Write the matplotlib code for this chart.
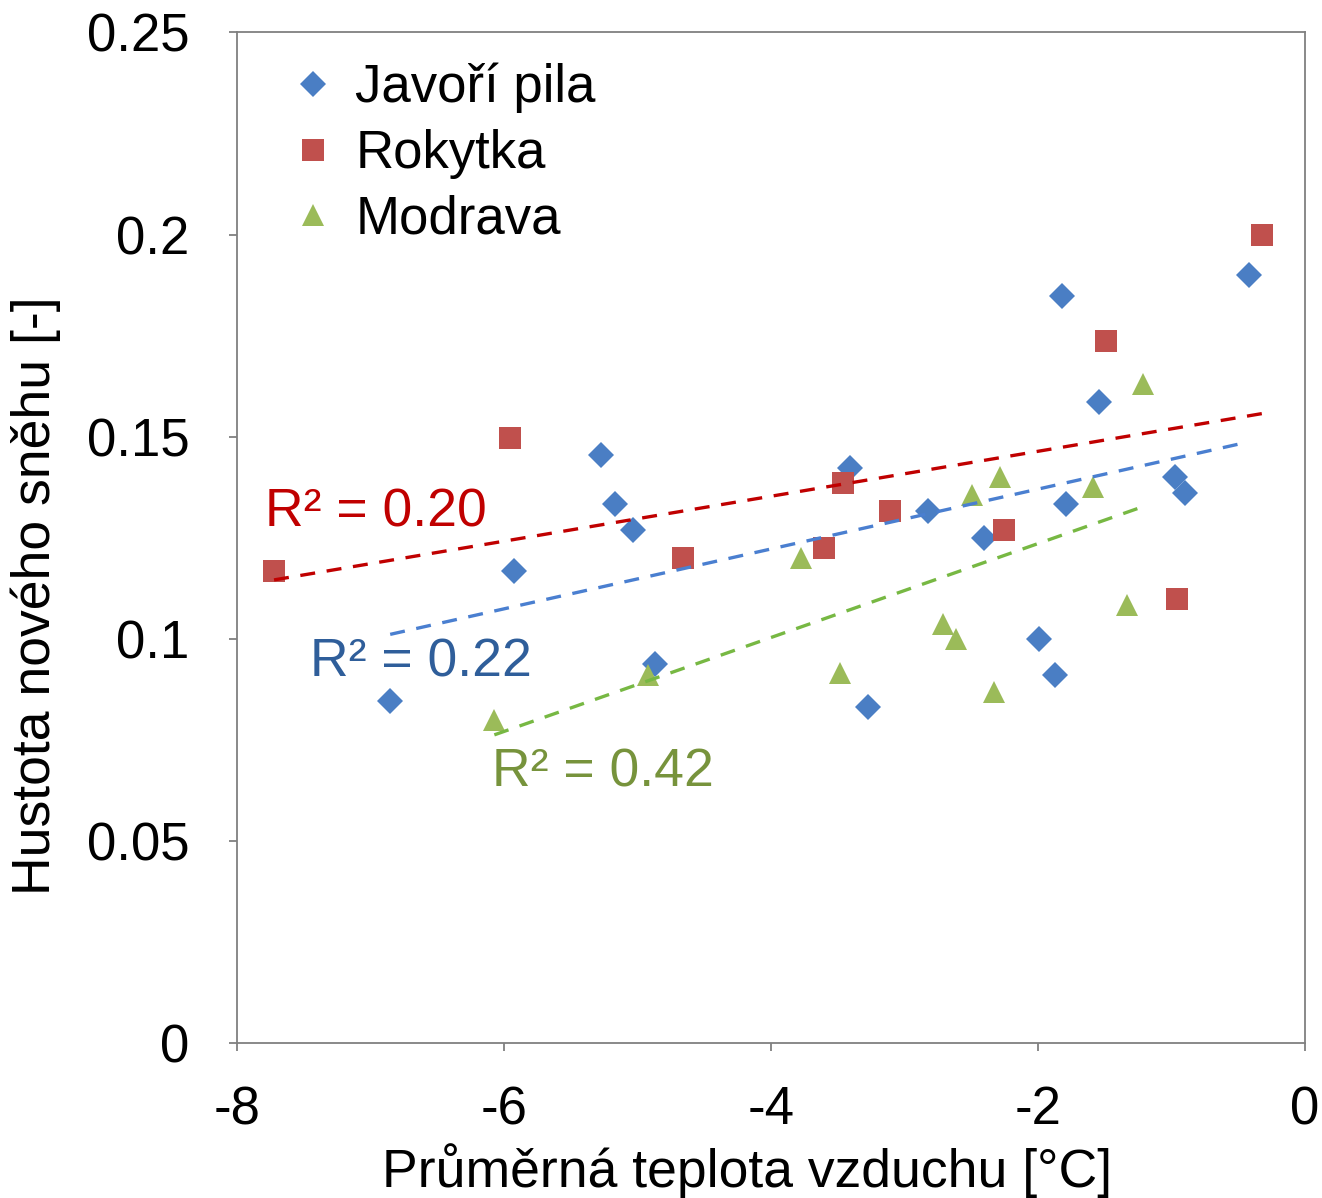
import numpy as np
import matplotlib.pyplot as plt
from matplotlib.ticker import FuncFormatter

plt.rcParams['font.family'] = ['Liberation Sans', 'DejaVu Sans']
plt.rcParams['axes.unicode_minus'] = False

# Javoří pila
jav_x = [-6.85, -5.92, -5.27, -5.17, -5.03, -4.87, -3.41, -3.27, -2.82, -2.40,
         -1.99, -1.87, -1.82, -1.79, -1.54, -0.97, -0.90, -0.42]
jav_y = [0.0846, 0.1167, 0.1454, 0.1335, 0.1269, 0.0937, 0.1422, 0.0833, 0.1316, 0.1249,
         0.0999, 0.0910, 0.1847, 0.1335, 0.1585, 0.1400, 0.1362, 0.1900]

# Rokytka
rok_x = [-7.72, -5.95, -4.66, -3.60, -3.46, -3.11, -2.25, -1.49, -0.96, -0.32]
rok_y = [0.1167, 0.1496, 0.1200, 0.1224, 0.1385, 0.1316, 0.1269, 0.1736, 0.1098, 0.1998]

# Modrava
mod_x = [-6.07, -4.92, -3.77, -3.48, -2.71, -2.61, -2.49, -2.33, -2.28, -1.59, -1.33, -1.21]
mod_y = [0.0799, 0.0912, 0.1200, 0.0917, 0.1036, 0.0999, 0.1355, 0.0868, 0.1400, 0.1377,
         0.1083, 0.1630]

r2_labels = ['R² = 0.22', 'R² = 0.20', 'R² = 0.42']

fig = plt.figure(figsize=(13.22, 11.98), dpi=100)
ax = fig.add_axes([0.179, 0.129, 0.808, 0.844])

series = [
    ('Javoří pila', jav_x, jav_y, 'D', '#4A7EC4', 13.5, '#4A7FD0', '#2F5E9A', (-7.45, 0.0942)),
    ('Rokytka', rok_x, rok_y, 's', '#C0504D', 15.5, '#C00000', '#C00000', (-7.79, 0.1313)),
    ('Modrava', mod_x, mod_y, '^', '#9BBB59', 16.5, '#77B843', '#77933C', (-6.09, 0.0670)),
]

for i, (name, xs, ys, mk, col, ms, lcol, tcol, tpos) in enumerate(series):
    xs = np.array(xs)
    ys = np.array(ys)
    ax.plot(xs, ys, linestyle='none', marker=mk, color=col, markersize=ms,
            markeredgewidth=0, label=name, zorder=3)
    k, q = np.polyfit(xs, ys, 1)
    lx = np.array([xs.min(), xs.max()])
    ax.plot(lx, k * lx + q, linestyle=(0, (4.5, 3.5)), color=lcol, linewidth=2.4, zorder=4)
    ax.text(tpos[0], tpos[1], r2_labels[i], color=tcol, fontsize=38.5, va='center', ha='left')

ax.set_xlim(-8, 0)
ax.set_ylim(0, 0.25)
ax.set_xticks(np.arange(-8, 1, 2))
ax.set_yticks(np.arange(0, 0.2501, 0.05))
ax.yaxis.set_major_formatter(FuncFormatter(lambda v, p: '%g' % round(v, 2)))

for s in ax.spines.values():
    s.set_color('#808080')
    s.set_linewidth(1.3)
ax.tick_params(direction='out', length=6, width=1.3, color='#808080', labelsize=38)
ax.tick_params(axis='y', pad=28)
ax.tick_params(axis='x', pad=24)

ax.set_xlabel('Průměrná teplota vzduchu [°C]', fontsize=38.5)
ax.xaxis.set_label_coords(0.478, -0.099)
ax.set_ylabel('Hustota nového sněhu [-]', fontsize=38.5)
ax.yaxis.set_label_coords(-0.164, 0.443)

ax.legend(loc='upper left', frameon=False, fontsize=38, handlelength=1.0, handletextpad=0.3,
          borderaxespad=0, borderpad=0, labelspacing=0.3, bbox_to_anchor=(0.047, 0.970))

fig.savefig('out.png', dpi=100)
